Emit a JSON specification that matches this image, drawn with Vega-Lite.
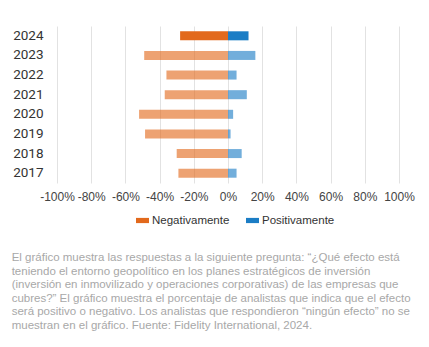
{
  "$schema": "https://vega.github.io/schema/vega-lite/v6.json",
  "width": 342,
  "height": 157,
  "autosize": "none",
  "padding": {"left": 57, "top": 26, "right": 30, "bottom": 164},
  "background": "white",
  "config": {"view": {"stroke": null}},
  "title": {
    "text": [
      "El gráfico muestra las respuestas a la siguiente pregunta: “¿Qué efecto está",
      "teniendo el entorno geopolítico en los planes estratégicos de inversión",
      "(inversión en inmovilizado y operaciones corporativas) de las empresas que",
      "cubres?” El gráfico muestra el porcentaje de analistas que indica que el efecto",
      "será positivo o negativo. Los analistas que respondieron “ningún efecto” no se",
      "muestran en el gráfico. Fuente: Fidelity International, 2024."
    ],
    "orient": "bottom",
    "anchor": "start",
    "frame": "bounds",
    "dx": -1,
    "offset": 26,
    "font": "Liberation Sans",
    "fontSize": 11.5,
    "fontWeight": "normal",
    "lineHeight": 13.5,
    "color": "#a8a8a8"
  },
  "data": {
    "values": [
      {"year": "2024", "efecto": "Negativamente", "valor": -28},
      {"year": "2024", "efecto": "Positivamente", "valor": 12},
      {"year": "2023", "efecto": "Negativamente", "valor": -49},
      {"year": "2023", "efecto": "Positivamente", "valor": 16},
      {"year": "2022", "efecto": "Negativamente", "valor": -36},
      {"year": "2022", "efecto": "Positivamente", "valor": 5},
      {"year": "2021", "efecto": "Negativamente", "valor": -37},
      {"year": "2021", "efecto": "Positivamente", "valor": 11},
      {"year": "2020", "efecto": "Negativamente", "valor": -52},
      {"year": "2020", "efecto": "Positivamente", "valor": 3},
      {"year": "2019", "efecto": "Negativamente", "valor": -48.5},
      {"year": "2019", "efecto": "Positivamente", "valor": 1.5},
      {"year": "2018", "efecto": "Negativamente", "valor": -30},
      {"year": "2018", "efecto": "Positivamente", "valor": 8},
      {"year": "2017", "efecto": "Negativamente", "valor": -29},
      {"year": "2017", "efecto": "Positivamente", "valor": 5}
    ]
  },
  "mark": {"type": "bar"},
  "encoding": {
    "y": {
      "field": "year",
      "type": "nominal",
      "sort": "descending",
      "scale": {"paddingInner": 0.54, "paddingOuter": 0.27},
      "axis": {
        "title": null,
        "ticks": false,
        "domain": false,
        "grid": false,
        "labelPadding": 14,
        "labelFont": "Roboto",
        "labelFontSize": 13.5,
        "labelColor": "#333333"
      }
    },
    "x": {
      "field": "valor",
      "type": "quantitative",
      "scale": {"domain": [-100, 100], "nice": false},
      "axis": {
        "title": null,
        "values": [-100, -80, -60, -40, -20, 0, 20, 40, 60, 80, 100],
        "labelExpr": "datum.value + '%'",
        "ticks": false,
        "domain": false,
        "gridColor": "#e2e2e2",
        "gridWidth": 1,
        "labelPadding": 8,
        "labelFont": "Liberation Sans",
        "labelFontSize": 12,
        "labelColor": "#444444",
        "labelFlush": false
      }
    },
    "color": {
      "field": "efecto",
      "type": "nominal",
      "scale": {"domain": ["Negativamente", "Positivamente"], "range": ["#e2691c", "#1b7dc5"]},
      "legend": {
        "title": null,
        "orient": "none",
        "legendX": 79,
        "legendY": 188,
        "direction": "horizontal",
        "symbolType": "M-1,-0.4H1V0.4H-1Z",
        "symbolSize": 169,
        "symbolStrokeWidth": 0,
        "labelFont": "Liberation Sans",
        "labelFontSize": 11.5,
        "labelColor": "#333333",
        "labelOffset": 3,
        "columnPadding": 16
      }
    },
    "opacity": {
      "condition": {"test": "datum.year == '2024'", "value": 1},
      "value": 0.62
    }
  }
}
